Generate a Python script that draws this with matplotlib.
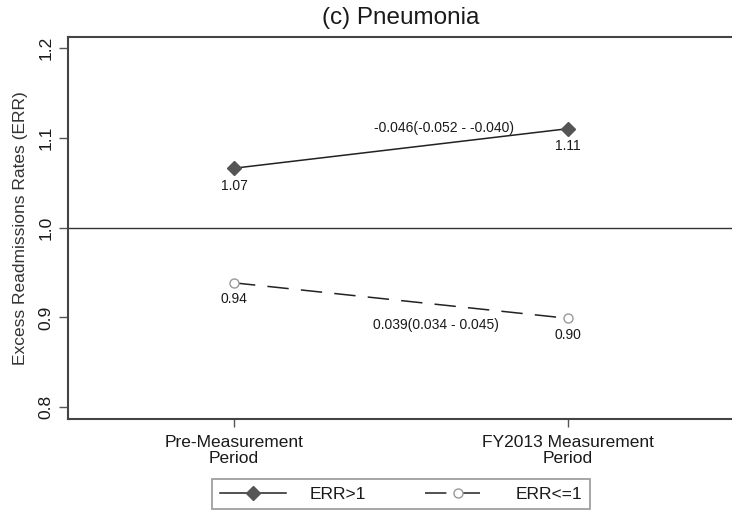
import matplotlib.pyplot as plt

plt.rcParams['font.family'] = ['Liberation Sans', 'DejaVu Sans']

periods = ["Pre-Measurement\nPeriod", "FY2013 Measurement\nPeriod"]
err_high = [1.066, 1.110]
err_low = [0.9385, 0.899]
high_labels = ["1.07", "1.11"]
low_labels = ["0.94", "0.90"]
high_change = "-0.046(-0.052 - -0.040)"
low_change = "0.039(0.034 - 0.045)"
yticks = [0.8, 0.9, 1.0, 1.1, 1.2]

txt = "#1a1a1a"
fig = plt.figure(figsize=(7.32, 5.12), dpi=100)
ax = fig.add_axes([68 / 732, 1 - 419 / 512, 664 / 732, 382 / 512])

x = [0, 1]
ax.axhline(1.0, color="#333333", lw=1.0, zorder=1)
ax.plot(x, err_high, color="#222222", lw=1.1, marker="D", ms=6.8,
        mfc="#555555", mec="#555555", label="ERR>1", zorder=3)
ax.plot(x, err_low, color="#222222", lw=1.1, dashes=(14, 8), marker="o", ms=6.5,
        mfc="white", mec="#999999", mew=1.0, label="ERR<=1", zorder=3)

for xi, yi, s in zip(x, err_high, high_labels):
    ax.annotate(s, (xi, yi), xytext=(0, -12.5), textcoords="offset points",
                ha="center", va="center", fontsize=10, color=txt)
for xi, yi, s in zip(x, err_low, low_labels):
    ax.annotate(s, (xi, yi), xytext=(0, -12), textcoords="offset points",
                ha="center", va="center", fontsize=10, color=txt)

ax.text(0.629, 1.111, high_change, ha="center", va="center", fontsize=10, color=txt)
ax.text(0.605, 0.892, low_change, ha="center", va="center", fontsize=10, color=txt)

ax.set_xlim(-0.497, 1.491)
ax.set_ylim(0.787, 1.212)
ax.set_xticks(x)
ax.set_xticklabels(periods, fontsize=12.5, color=txt, linespacing=1.05)
ax.set_yticks(yticks)
ax.set_yticklabels([f"{v:.1f}" for v in yticks], fontsize=12.5, color=txt,
                   rotation=90, va="center")
ax.tick_params(axis="x", length=5.5, width=1.0, color="#555555", pad=6)
ax.tick_params(axis="y", length=6.5, width=1.0, color="#555555", pad=4)

for side in ["left", "bottom", "top"]:
    ax.spines[side].set_color("#444444")
    ax.spines[side].set_linewidth(1.5)
ax.spines["right"].set_visible(False)

fig.text(21 / 732, 1 - 228 / 512, "Excess Readmissions Rates (ERR)", rotation=90,
         ha="center", va="center", fontsize=12.5, color="#333333")
fig.text(401 / 732, 1 - 18 / 512, "(c) Pneumonia", ha="center", va="center",
         fontsize=17.5, color=txt)

leg = fig.legend(loc="center", bbox_to_anchor=(401 / 732, 1 - 494 / 512), ncol=2,
                 fontsize=12.5, frameon=True, fancybox=False, handlelength=3.8,
                 handletextpad=1.4, columnspacing=3.4, borderpad=0.45, numpoints=1)
leg.get_frame().set_edgecolor("#888888")
leg.get_frame().set_linewidth(1.3)
for t in leg.get_texts():
    t.set_color(txt)

fig.savefig("out.png", dpi=100)
